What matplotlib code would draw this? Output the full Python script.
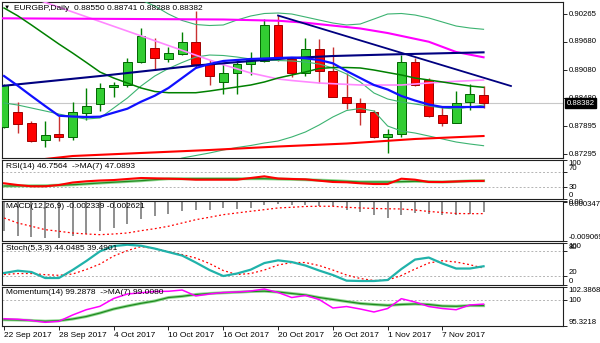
import numpy as np
import matplotlib.pyplot as plt
from matplotlib.transforms import blended_transform_factory

plt.rcParams['font.family'] = ['Liberation Sans', 'DejaVu Sans']

# ---- data (EURGBP daily, 22 Sep - 10 Nov 2017) ----
date_labels = ["22 Sep 2017", "28 Sep 2017", "4 Oct 2017", "10 Oct 2017", "16 Oct 2017",
               "20 Oct 2017", "26 Oct 2017", "1 Nov 2017", "7 Nov 2017"]
date_bars = [0, 4, 8, 12, 16, 20, 24, 28, 32]

opens = [0.87876, 0.88200, 0.87971, 0.87601, 0.87728, 0.87675, 0.88166, 0.88356, 0.88728,
         0.88764, 0.89244, 0.89553, 0.89314, 0.89413, 0.89680, 0.89202, 0.88821, 0.89011,
         0.89202, 0.89272, 0.90033, 0.89307, 0.89011, 0.89519, 0.89066, 0.88517, 0.88390,
         0.88200, 0.87659, 0.87728, 0.89257, 0.88870, 0.88130, 0.87967, 0.88398, 0.88550]
highs = [0.88785, 0.88405, 0.87993, 0.87993, 0.88109, 0.88411, 0.88694, 0.88817, 0.88828,
         0.89341, 0.89963, 0.89764, 0.89574, 0.89891, 0.90328, 0.89293, 0.89223, 0.89293,
         0.89468, 0.90153, 0.90244, 0.89362, 0.89751, 0.89737, 0.89574, 0.89024, 0.88483,
         0.88236, 0.87828, 0.89398, 0.89329, 0.88906, 0.88327, 0.88637, 0.88779, 0.88741]
lows = [0.87855, 0.87749, 0.87559, 0.87453, 0.87580, 0.87601, 0.88024, 0.88225, 0.88504,
        0.88728, 0.89223, 0.89081, 0.89244, 0.89398, 0.89151, 0.88764, 0.88574, 0.88574,
        0.88976, 0.89257, 0.89278, 0.88927, 0.88954, 0.88800, 0.88510, 0.88250, 0.87919,
        0.87650, 0.87333, 0.87671, 0.88750, 0.88094, 0.87904, 0.87955, 0.88236, 0.88288]
closes = [0.88764, 0.87940, 0.87580, 0.87707, 0.87675, 0.88200, 0.88320, 0.88707, 0.88758,
          0.89244, 0.89800, 0.89341, 0.89434, 0.89680, 0.89202, 0.88954, 0.89011, 0.89202,
          0.89293, 0.90033, 0.89329, 0.89011, 0.89519, 0.89060, 0.88517, 0.88377, 0.88200,
          0.87659, 0.87728, 0.89257, 0.88764, 0.88109, 0.87954, 0.88377, 0.88568, 0.88382]

# moving averages on the price chart
blue_ma = [0.88954, 0.88749, 0.88532, 0.88320, 0.88115, 0.88098, 0.88088, 0.88094, 0.88179,
           0.88263, 0.88411, 0.88538, 0.88701, 0.88912, 0.89124, 0.89208, 0.89272, 0.89293,
           0.89314, 0.89324, 0.89335, 0.89345, 0.89329, 0.89293, 0.89223, 0.89060, 0.88912,
           0.88764, 0.88669, 0.88532, 0.88436, 0.88352, 0.88299, 0.88299, 0.88299, 0.88299]
green_ma = [0.90392, 0.90227, 0.90033, 0.89832, 0.89631, 0.89441, 0.89242, 0.89039, 0.88912,
            0.88806, 0.88701, 0.88627, 0.88601, 0.88601, 0.88601, 0.88637, 0.88680, 0.88722,
            0.88764, 0.88828, 0.88912, 0.88976, 0.89039, 0.89113, 0.89134, 0.89134, 0.89124,
            0.89081, 0.89028, 0.88976, 0.88912, 0.88870, 0.88828, 0.88785, 0.88743, 0.88715]
bb_mid = [0.88384, 0.88341, 0.88278, 0.88215, 0.88151, 0.88088, 0.88045, 0.88067, 0.88278,
          0.88489, 0.88743, 0.88954, 0.89113, 0.89240, 0.89356, 0.89398, 0.89388, 0.89356,
          0.89314, 0.89293, 0.89282, 0.89272, 0.89250, 0.89208, 0.89124, 0.88997, 0.88828,
          0.88595, 0.88468, 0.88405, 0.88362, 0.88320, 0.88278, 0.88257, 0.88299, 0.88341]
bb_up_bars = list(range(9, 36))
bb_up = [0.90667, 0.90561, 0.90434, 0.90265, 0.90128, 0.90043, 0.90022, 0.90033, 0.90138,
         0.90223, 0.90276, 0.90286, 0.90265, 0.90202, 0.90138, 0.90075, 0.90033, 0.90054,
         0.90159, 0.90265, 0.90276, 0.90244, 0.90181, 0.90096, 0.90011, 0.89969, 0.89942]
bb_lo_bars = list(range(12, 36))
bb_lo = [0.87136, 0.87221, 0.87274, 0.87327, 0.87390, 0.87443, 0.87485, 0.87538, 0.87580,
         0.87665, 0.87771, 0.87919, 0.88088, 0.88225, 0.88267, 0.88215, 0.87897, 0.87792,
         0.87749, 0.87686, 0.87623, 0.87559, 0.87517, 0.87481]
magenta_bars = [-0.2, 10, 16, 20, 22, 26, 28, 31, 33, 35]
magenta_ma = [0.90174, 0.90159, 0.90149, 0.90123, 0.90081, 0.89959, 0.89863, 0.89679, 0.89462, 0.89350]
pink_bars = [2, 9, 15, 16, 18, 20, 21, 23, 26, 29, 32, 35]
pink_ma = [0.90612, 0.89904, 0.89293, 0.89193, 0.89018, 0.88891, 0.88859, 0.88806, 0.88764,
           0.88764, 0.88828, 0.88870]
navy_bars = [-0.2, 7, 14, 18, 21, 24, 28, 35]
navy_ma = [0.88743, 0.88954, 0.89176, 0.89271, 0.89335, 0.89377, 0.89409, 0.89455]
red_bars = [3, 5, 10, 15, 20, 25, 30, 35]
red_ma = [0.87200, 0.87263, 0.87327, 0.87390, 0.87464, 0.87527, 0.87623, 0.87686]
trend_bars = [20, 37]
trend_line = [0.90233, 0.88743]
price_ticks = [0.90265, 0.89680, 0.89080, 0.88480, 0.87895, 0.87295]

# indicators
rsi = [40.5, 36.0, 32.6, 32.6, 36.0, 42.5, 45.7, 47.8, 49.0, 51.7, 54.3, 53.5, 52.5, 51.7,
       49.9, 49.9, 49.9, 49.9, 54.3, 58.7, 53.0, 51.7, 50.9, 47.3, 43.9, 43.1, 40.5, 38.6,
       38.6, 52.5, 49.9, 43.9, 43.9, 45.2, 46.5, 46.76]
rsi_ma = [33.4, 33.8, 34.0, 34.2, 35.5, 36.8, 39.0, 41.3, 43.3, 45.3, 47.3, 50.0, 52.5, 52.5,
          52.5, 52.5, 52.5, 52.5, 52.5, 52.5, 51.7, 50.8, 49.9, 48.6, 47.3, 45.6, 43.9, 43.9,
          43.9, 44.8, 45.7, 44.8, 43.9, 45.2, 46.5, 47.09]
macd = [-0.00678, -0.00796, -0.00819, -0.00836, -0.00836, -0.00796, -0.00742, -0.00678,
        -0.00600, -0.00506, -0.00388, -0.00325, -0.00271, -0.00207, -0.00169, -0.00169,
        -0.00129, -0.00146, -0.00129, -0.00052, -0.00028, -0.00052, -0.00052, -0.00089,
        -0.00089, -0.00169, -0.00224, -0.00301, -0.00365, -0.00287, -0.00247, -0.00264,
        -0.00301, -0.00301, -0.00271, -0.002339]
macd_signal = [-0.00365, -0.00483, -0.00560, -0.00640, -0.00678, -0.00718, -0.00742, -0.00758,
               -0.00742, -0.00718, -0.00664, -0.00617, -0.00560, -0.00483, -0.00405, -0.00348,
               -0.00287, -0.00247, -0.00207, -0.00169, -0.00129, -0.00113, -0.00094, -0.00089,
               -0.00089, -0.00113, -0.00129, -0.00141, -0.00148, -0.00153, -0.00177, -0.00212,
               -0.00235, -0.00259, -0.00264, -0.002621]
stoch_k = [27.8, 33.4, 30.2, 15.8, 15.8, 35.0, 56.6, 79.9, 92.6, 95.8, 93.4, 86.6, 78.2, 69.8,
           53.0, 35.0, 20.6, 26.6, 35.8, 51.8, 58.3, 54.2, 45.8, 33.8, 23.0, 9.4, 8.6, 8.6,
           11.0, 37.4, 60.2, 65.0, 50.6, 38.6, 38.6, 44.05]
stoch_d = [24.2, 26.6, 26.6, 23.8, 22.3, 25.4, 36.2, 49.4, 68.6, 81.8, 91.4, 86.6, 79.4, 72.2,
           63.8, 50.6, 33.8, 24.2, 26.6, 35.0, 47.0, 53.0, 53.0, 45.8, 35.0, 23.0, 14.6, 9.8,
           11.0, 21.8, 37.4, 51.8, 57.4, 54.2, 47.8, 39.49]
momentum = [96.64, 96.54, 96.32, 95.99, 96.17, 97.31, 98.27, 98.89, 100.30, 101.12, 101.34,
            101.57, 101.61, 101.84, 100.76, 101.12, 101.39, 101.48, 101.66, 102.02, 101.39,
            100.48, 100.85, 100.12, 98.58, 98.85, 98.40, 97.86, 98.49, 100.27, 99.67, 98.85,
            98.49, 98.27, 99.13, 99.29]
momentum_ma = [96.46, 96.41, 96.32, 96.19, 96.28, 96.59, 97.04, 97.67, 98.40, 98.94, 99.43,
               99.85, 100.48, 100.70, 101.03, 101.21, 101.34, 101.44, 101.57, 101.63, 101.48,
               101.21, 100.94, 100.48, 100.12, 99.76, 99.40, 99.22, 99.07, 99.22, 99.31, 99.22,
               98.94, 98.89, 99.03, 99.01]


def panel(fig, top, bottom):
    ax = fig.add_axes([2 / 600, 1 - bottom / 343, 561 / 600, (bottom - top) / 343])
    ax.set_xlim(-0.15, -0.15 + 561 / 13.7)
    for s in ax.spines.values():
        s.set_color('#202020')
        s.set_linewidth(0.8)
    ax.yaxis.tick_right()
    ax.tick_params(axis='y', length=3, width=0.6, labelsize=5.6, pad=1)
    ax.tick_params(axis='x', bottom=False, labelbottom=False)
    return ax


def right_labels(ax, values, texts, aligns):
    ax.set_yticks(values)
    ax.set_yticklabels(texts)
    for lab, va in zip(ax.get_yticklabels(), aligns):
        lab.set_va(va)


def title(ax, text, dx=4):
    ax.annotate(text, xy=(0, 1), xycoords='axes fraction', xytext=(dx, -2.5),
                textcoords='offset pixels', va='top', ha='left', fontsize=6, zorder=20)


fig = plt.figure(figsize=(6, 3.43), dpi=100)
x = np.arange(len(closes))

# ---- price panel ----
ax = panel(fig, 2, 158)
ax.set_ylim(0.87221, 0.90519)
o, h, l, c = map(np.array, (opens, highs, lows, closes))
up = c >= o
ax.axhline(closes[-1], color='#c8c8c8', lw=0.8, zorder=1)
ax.vlines(x, l, h, colors=np.where(up, '#008000', '#c83232'), lw=1, zorder=3)
ax.bar(x, np.maximum(np.abs(c - o), 0.00008), bottom=np.minimum(o, c), width=0.64,
       color=np.where(up, '#32cd32', '#ff0000'), edgecolor=np.where(up, '#006400', '#a00000'),
       lw=0.7, zorder=4)

ax.plot(bb_up_bars, bb_up, color='#3cb371', lw=0.8, zorder=5)
ax.plot(x, bb_mid, color='#3cb371', lw=0.8, zorder=5)
ax.plot(bb_lo_bars, bb_lo, color='#3cb371', lw=0.8, zorder=5)
ax.plot(pink_bars, pink_ma, color='#ff88ff', lw=1.2, zorder=5)
ax.plot(magenta_bars, magenta_ma, color='#ff00ff', lw=1.5, zorder=6)
ax.plot(x, green_ma, color='#008000', lw=1.1, zorder=6)
ax.plot(navy_bars, navy_ma, color='#000080', lw=1.5, zorder=6)
ax.plot(red_bars, red_ma, color='#ff0000', lw=1.5, zorder=6)
ax.plot(x, blue_ma, color='#1010ff', lw=1.6, zorder=7)
ax.plot(trend_bars, trend_line, color='#000080', lw=1.3, zorder=7)

right_labels(ax, price_ticks, [f'{v:.5f}' for v in price_ticks], ['center'] * 6)
tr = blended_transform_factory(ax.transAxes, ax.transData)
ax.text(1.006, closes[-1], f'{closes[-1]:.5f}', transform=tr, ha='left', va='center',
        fontsize=5.6, color='white', zorder=30, clip_on=False,
        bbox=dict(facecolor='black', edgecolor='black', pad=1.2))
ax.annotate('\u25bc', xy=(0, 1), xycoords='axes fraction', xytext=(1.5, -3),
            textcoords='offset pixels', va='top', ha='left', fontsize=4.5, zorder=20)
title(ax, f'EURGBP,Daily  {opens[-1]:.5f} {highs[-1]:.5f} {lows[-1]:.5f} {closes[-1]:.5f}', dx=12)

# ---- RSI ----
ax = panel(fig, 160, 199)
ax.set_ylim(-0.5, 101.3)
for lv in (70, 30):
    ax.axhline(lv, color='#b4b4b4', ls=(0, (2, 2)), lw=0.7)
ax.plot(x, rsi_ma, color='#90d890', lw=2.2)
ax.plot(x, rsi_ma, color='#208a20', lw=0.9)
ax.plot(x, rsi, color='#ff0000', lw=1.5)
right_labels(ax, [100, 70, 30, 0], ['100', '70', '30', '0'], ['top', 'bottom', 'center', 'bottom'])
title(ax, 'RSI(14) 46.7564  ->MA(7) 47.0893')

# ---- MACD ----
ax = panel(fig, 201, 241)
ax.set_ylim(-0.009069, 0.000347)
ax.vlines(x, macd, 0, colors='#707070', lw=1.1)
ax.plot(x, macd_signal, color='#ff0000', lw=0.9, ls=(0, (1.5, 2)))
right_labels(ax, [0.000347, 0.0, -0.009069], ['0.000347', '0.00', '-0.009069'],
             ['top', 'center', 'bottom'])
title(ax, f'MACD(12,26,9) {macd[-1]:.6f} {macd_signal[-1]:.6f}')

# ---- Stochastic ----
ax = panel(fig, 243, 285)
ax.set_ylim(-1, 100)
for lv in (80, 20):
    ax.axhline(lv, color='#b4b4b4', ls=(0, (2, 2)), lw=0.7)
ax.plot(x, stoch_d, color='#ff0000', lw=0.9, ls=(0, (1.5, 2)))
ax.plot(x, stoch_k, color='#20b2aa', lw=1.6)
right_labels(ax, [100, 80, 20, 0], ['100', '80', '20', '0'], ['top', 'bottom', 'bottom', 'bottom'])
title(ax, 'Stoch(5,3,3) 44.0485 39.4901')

# ---- Momentum ----
ax = panel(fig, 287, 326)
ax.set_ylim(95.3218, 102.3868)
ax.axhline(100, color='#b4b4b4', ls=(0, (2, 2)), lw=0.7)
ax.plot(x, momentum_ma, color='#90d890', lw=2.2)
ax.plot(x, momentum_ma, color='#208a20', lw=0.9)
ax.plot(x, momentum, color='#ff00ff', lw=1.1)
right_labels(ax, [102.3868, 100, 95.3218], ['102.3868', '100', '95.3218'], ['top', 'center', 'bottom'])
title(ax, 'Momentum(14) 99.2878  ->MA(7) 99.0080')
ax.set_xticks(date_bars)
ax.set_xticklabels(date_labels, ha='left')
ax.tick_params(axis='x', bottom=True, labelbottom=True, length=3, width=0.6,
               labelsize=6, pad=1.5, direction='out')

fig.savefig('out.png', dpi=100)
